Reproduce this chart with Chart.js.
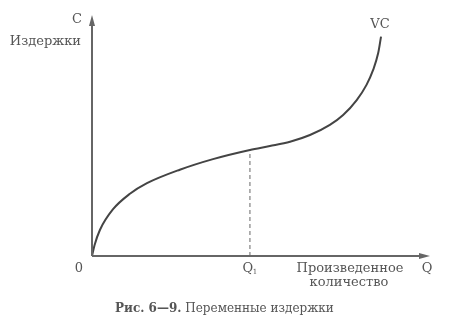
<!DOCTYPE html>
<html><head><meta charset="utf-8">
<script src="https://cdn.jsdelivr.net/npm/chart.js@4/dist/chart.umd.min.js"></script>
<style>html,body{margin:0;padding:0;background:#fff}#wrap{width:460px;height:329px;position:relative}</style>
</head><body><div id="wrap"><canvas id="c" width="460" height="329"></canvas></div>
<script>
const quantity = [0, 0.08, 0.25, 0.66, 1.2, 1.74, 2.78, 3.83, 5.0, 5.63, 6.27, 6.9, 7.53, 7.95, 8.38, 8.69, 8.9, 9.06, 9.15];
const variableCost = [0, 0.45, 1.08, 1.93, 2.58, 3.02, 3.58, 4.02, 4.40, 4.56, 4.74, 5.02, 5.44, 5.85, 6.47, 7.10, 7.72, 8.42, 9.10];
const q1 = 5.0;
const q1Cost = 4.40;
const xTickLabels = ['0', 'Q'];
const axisLabels = {y: 'C', yName: 'Издержки', x: 'Q', xName: ['Произведенное', 'количество'], curve: 'VC'};
const captionBold = 'Рис. 6—9.';
const captionText = ' Переменные издержки';

const ink = '#555';
const serif = '"DejaVu Serif", "Liberation Serif", serif';

const overlay = {
  id: 'overlay',
  afterDraw(chart) {
    const ctx = chart.ctx, xs = chart.scales.x, ys = chart.scales.y;
    const x0 = xs.getPixelForValue(0), y0 = ys.getPixelForValue(0);
    const xEnd = xs.right, yTop = ys.top;
    ctx.save();
    ctx.strokeStyle = '#666'; ctx.fillStyle = '#666'; ctx.lineWidth = 2;
    ctx.beginPath(); ctx.moveTo(x0, y0); ctx.lineTo(xEnd - 6, y0); ctx.stroke();
    ctx.beginPath(); ctx.moveTo(x0, y0); ctx.lineTo(x0, yTop + 6); ctx.stroke();
    ctx.beginPath(); ctx.moveTo(xEnd, y0); ctx.lineTo(xEnd - 11, y0 - 3); ctx.lineTo(xEnd - 11, y0 + 3); ctx.closePath(); ctx.fill();
    ctx.beginPath(); ctx.moveTo(x0, yTop); ctx.lineTo(x0 - 3, yTop + 11); ctx.lineTo(x0 + 3, yTop + 11); ctx.closePath(); ctx.fill();

    ctx.fillStyle = ink; ctx.textBaseline = 'middle';
    ctx.font = '13px ' + serif;
    ctx.textAlign = 'center';
    ctx.fillText(axisLabels.y, x0 - 15, yTop + 5);
    ctx.textAlign = 'right';
    ctx.fillText(axisLabels.yName, x0 - 11, yTop + 27);
    ctx.textAlign = 'center';
    ctx.fillText(xTickLabels[0], x0 - 13, y0 + 13);
    const qx = xs.getPixelForValue(q1);
    ctx.fillText(xTickLabels[1], qx - 2, y0 + 13);
    ctx.font = '7px ' + serif;
    ctx.fillText('1', qx + 5, y0 + 16);
    ctx.font = '13px ' + serif;
    ctx.fillText(axisLabels.x, xEnd - 3, y0 + 13);
    ctx.fillText(axisLabels.xName[0], 350, y0 + 13);
    ctx.fillText(axisLabels.xName[1], 349, y0 + 27);
    const lx = xs.getPixelForValue(quantity[quantity.length - 1]);
    const ly = ys.getPixelForValue(variableCost[variableCost.length - 1]);
    ctx.fillText(axisLabels.curve, lx - 1, ly - 12);

    ctx.textAlign = 'left';
    ctx.font = 'bold 12px ' + serif;
    const bw = ctx.measureText(captionBold).width;
    const capX = 115, capY = 309;
    ctx.fillText(captionBold, capX, capY);
    ctx.font = '12px ' + serif;
    ctx.fillText(captionText, capX + bw, capY);
    ctx.restore();
  }
};

new Chart(document.getElementById('c'), {
  type: 'scatter',
  data: {
    datasets: [
      {
        data: quantity.map((q, i) => ({x: q, y: variableCost[i]})),
        showLine: true, borderColor: '#444', borderWidth: 2, pointRadius: 0,
        cubicInterpolationMode: 'monotone', fill: false
      },
      {
        data: [{x: q1, y: 0}, {x: q1, y: q1Cost}],
        showLine: true, borderColor: '#666', borderWidth: 1, borderDash: [4, 3], pointRadius: 0
      }
    ]
  },
  options: {
    responsive: false, animation: false, devicePixelRatio: 1,
    layout: {padding: {left: 92, right: 30, top: 15, bottom: 73}},
    plugins: {legend: {display: false}, tooltip: {enabled: false}},
    scales: {
      x: {type: 'linear', min: 0, max: 10.7, display: false},
      y: {type: 'linear', min: 0, max: 10, display: false}
    }
  },
  plugins: [overlay]
});
</script></body></html>
